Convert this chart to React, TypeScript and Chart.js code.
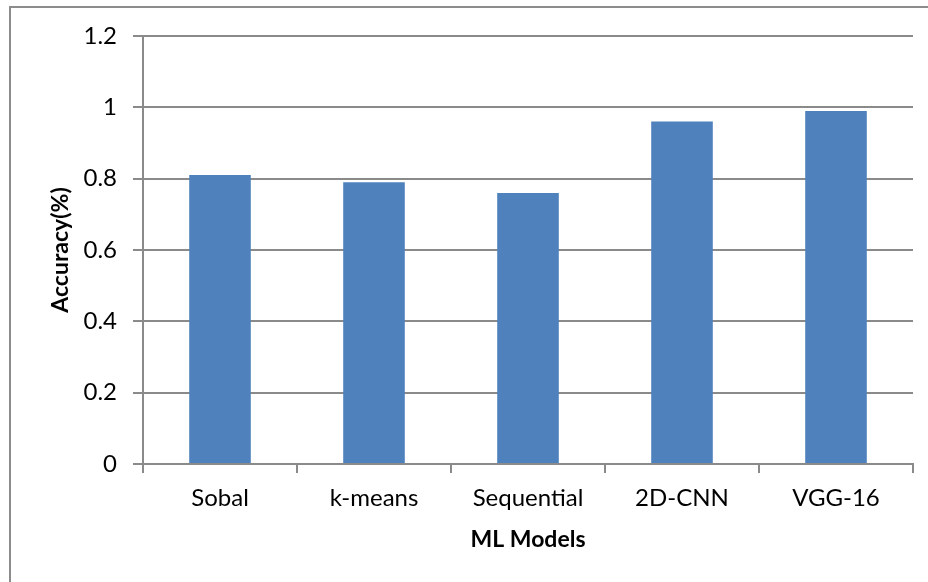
import React, { useEffect, useRef } from "react";
import { Chart, registerables } from "chart.js";

Chart.register(...registerables);

const models = ["Sobal", "k-means", "Sequential", "2D-CNN", "VGG-16"];
const accuracy = [0.81, 0.79, 0.76, 0.96, 0.99];
const yTicks = [0, 0.2, 0.4, 0.6, 0.8, 1, 1.2];

const FONT = "Lato, 'Open Sans', sans-serif";
const GRID = "#8a8a8a";
const BAR = "#4F81BD";

// Frame line on the left and top edges of the canvas
const framePlugin = {
  id: "frame",
  beforeDraw(chart: any) {
    const { ctx } = chart;
    ctx.save();
    ctx.fillStyle = "#8c8c8c";
    ctx.fillRect(9, 6, 2, chart.height);
    ctx.fillRect(9, 6, chart.width, 2);
    ctx.restore();
  },
};

export default function App() {
  const canvasRef = useRef<HTMLCanvasElement | null>(null);

  useEffect(() => {
    if (!canvasRef.current) return;
    const chart = new Chart(canvasRef.current, {
      type: "bar",
      data: {
        labels: models,
        datasets: [
          {
            label: "Accuracy",
            data: accuracy,
            backgroundColor: BAR,
            borderWidth: 0,
            barPercentage: 1,
            categoryPercentage: 0.4,
          },
        ],
      },
      options: {
        responsive: false,
        animation: false,
        devicePixelRatio: 1,
        layout: { padding: { left: 0, top: 36, right: 15, bottom: 0 } },
        plugins: {
          legend: { display: false },
          tooltip: { enabled: false },
        },
        scales: {
          x: {
            afterFit(scale: any) {
              scale.height = 118;
            },
            grid: {
              display: true,
              drawOnChartArea: false,
              drawTicks: true,
              tickLength: 9,
              color: GRID,
              lineWidth: 2,
              offset: true,
            },
            border: { display: true, color: GRID, width: 2 },
            ticks: {
              color: "#000",
              font: { family: FONT, size: 24 },
              padding: 11,
              maxRotation: 0,
            },
            title: {
              display: true,
              text: "ML Models",
              color: "#000",
              font: { family: FONT, size: 23, weight: "bold" },
              padding: { top: 0, bottom: 29 },
            },
          },
          y: {
            min: 0,
            max: 1.2,
            afterFit(scale: any) {
              scale.width = 143;
            },
            afterBuildTicks(scale: any) {
              scale.ticks = yTicks.map((v) => ({ value: v }));
            },
            grid: {
              color: GRID,
              lineWidth: 2,
              tickLength: 10,
            },
            border: { display: true, color: GRID, width: 2 },
            ticks: {
              color: "#000",
              font: { family: FONT, size: 24 },
              padding: 16,
              callback: (v: any) => String(Math.round(Number(v) * 10) / 10),
            },
            title: {
              display: true,
              text: "Accuracy(%)",
              color: "#000",
              font: { family: FONT, size: 23, weight: "bold" },
              padding: { top: 47, bottom: 0 },
            },
          },
        },
      },
      plugins: [framePlugin],
    });
    return () => chart.destroy();
  }, []);

  return (
    <div style={{ position: "fixed", left: 0, top: 0, width: 928, height: 582, background: "#fff" }}>
      <canvas ref={canvasRef} width={928} height={582} style={{ display: "block" }} />
    </div>
  );
}
